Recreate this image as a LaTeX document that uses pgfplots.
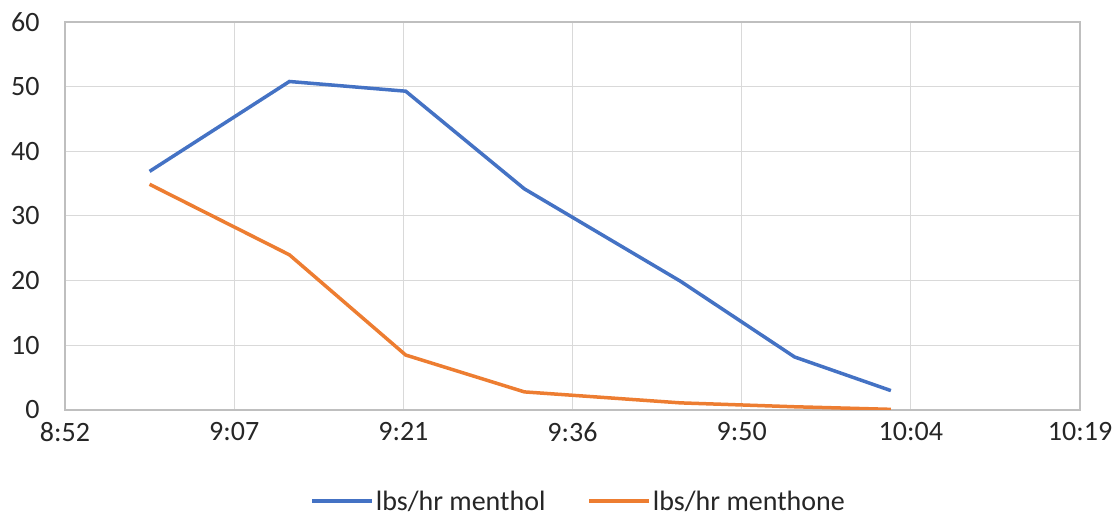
\documentclass[border=0pt]{standalone}
\usepackage{pgfplots}
\pgfplotsset{compat=1.18}
\usepackage{fontspec}
\setmainfont{Carlito}
\definecolor{cblue}{HTML}{4472C4}
\definecolor{corange}{HTML}{ED7D31}
\begin{document}
\begin{tikzpicture}[font=\fontsize{28}{32}\selectfont]
\useasboundingbox (-65pt,-108pt) rectangle (1055pt,410pt);
\begin{axis}[
  at={(0pt,0pt)}, anchor=south west,
  scale only axis, width=1015pt, height=388pt,
  xmin=532.8, xmax=619.2, ymin=0, ymax=60,
  xtick={532.8,547.2,561.6,576,590.4,604.8,619.2},
  xticklabels={8:52,9:07,9:21,9:36,9:50,10:04,10:19},
  ytick={0,10,20,30,40,50,60},
  /pgf/number format/assume math mode=true,
  grid=major,
  major grid style={gray!30, line width=1pt},
  axis line style={gray!50, line width=1.2pt},
  tick style={draw=none},
  xticklabel style={yshift=-9pt, text=black!85},
  yticklabel style={xshift=-22pt, text=black!85},
  legend style={at={(0.506,-0.235)}, anchor=center, draw=none, legend columns=2,
    font=\fontsize{28}{32}\selectfont, text=black!85,
    /tikz/every even column/.append style={column sep=40pt}},
  legend image code/.code={\draw[#1, line width=3.5pt] (0pt,0pt) -- (60pt,0pt);},
]
\addplot[cblue, line width=3.5pt] coordinates {
  (540.0,36.9) (551.9,50.8) (561.8,49.3) (571.9,34.2) (585.2,19.9) (594.9,8.2) (603.1,3.0)};
\addlegendentry{lbs/hr menthol}
\addplot[corange, line width=3.5pt] coordinates {
  (540.0,34.9) (551.9,24.0) (561.8,8.5) (571.9,2.8) (585.2,1.1) (594.9,0.5) (603.1,0.1)};
\addlegendentry{lbs/hr menthone}
\end{axis}
\end{tikzpicture}
\end{document}
